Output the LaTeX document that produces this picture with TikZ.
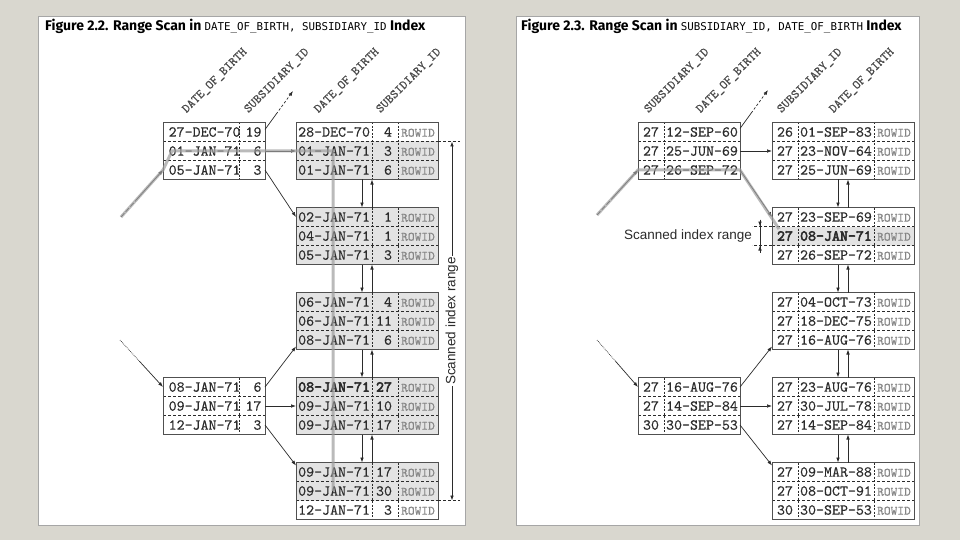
\documentclass[tikz,border=0pt]{standalone}
\usepackage{fontspec}
\setmainfont{Liberation Sans}
\newfontfamily\titlefont{Fira Sans}
\newfontfamily\codefont{DejaVu Sans Mono}
\newfontfamily\cellmono{lmmono10-regular.otf}[FakeBold=0.35]
\newfontfamily\cellmonobf{lmmono10-regular.otf}[FakeBold=3.5]
\usetikzlibrary{arrows.meta,calc,positioning}

\definecolor{page}{HTML}{D9D7CF}
\definecolor{panelline}{HTML}{A6A6A6}
\definecolor{ink}{HTML}{2B2B2B}
\definecolor{framegray}{HTML}{505050}
\definecolor{hitgray}{HTML}{E3E3E3}
\definecolor{ridgray}{HTML}{858585}
\definecolor{headgray}{HTML}{4A4A4A}
\definecolor{trailgray}{HTML}{9E9E9E}

\newcommand{\cellfont}{\cellmono\fontsize{15.2}{16}\selectfont}
\newcommand{\headfont}{\cellmono\fontsize{12.6}{13}\selectfont}
\newcommand{\rid}{{\cellmono\fontsize{12.8}{13}\selectfont\color{ridgray}ROWID}}
\newcommand{\hl}[1]{{\cellmonobf #1}}
% rows of the DATE_OF_BIRTH, SUBSIDIARY_ID index
\newcommand{\dbr}[2]{\makebox[74pt][r]{#1}\makebox[21pt][r]{#2}\hspace{7pt}}
\newcommand{\dlr}[2]{\makebox[74pt][r]{#1}\makebox[22pt][r]{#2}\hspace{6pt}\makebox[40pt]{\rid}}
% rows of the SUBSIDIARY_ID, DATE_OF_BIRTH index
\newcommand{\sbr}[2]{\makebox[26pt]{#1}\makebox[76pt]{#2}}
\newcommand{\slr}[2]{\makebox[26pt]{#1}\makebox[76pt]{#2}\makebox[40pt]{\rid}}

\begin{document}
\begin{tikzpicture}[x=1pt, y=-1pt, >={Latex[length=5pt,width=3.6pt]},
  cell/.style={anchor=north west, inner sep=0pt, outer sep=0pt, minimum height=19pt, font=\cellfont, text=ink},
  brow/.style={cell, minimum width=102pt},
  lrow/.style={cell, minimum width=142pt},
  hit/.style={fill=hitgray},
  frame/.style={draw=framegray, line width=0.9pt},
  rowsep/.style={draw=ink, dash pattern=on 3pt off 2pt, line width=0.6pt},
  colsep/.style={draw=ink, dash pattern=on 2pt off 1.5pt, line width=0.6pt},
  link/.style={->, draw=ink, line width=0.7pt},
  trail/.style={draw=trailgray, line width=3pt, opacity=0.7},
  colhead/.style={anchor=south west, rotate=45, inner sep=0pt, font=\headfont, text=headgray},
  rangelabel/.style={fill=white, inner sep=1pt, font=\fontsize{13.5}{14}\selectfont, text=ink}]

  % page and panels
  \fill[page] (0,0) rectangle (960,540);
  \draw[panelline, fill=white] (38,16) rectangle (465,525);
  \draw[panelline, fill=white] (516,16) rectangle (919,525);

  \node[anchor=base west, inner sep=0pt] (title1) at (45,31)
    {\titlefont\bfseries\fontsize{14}{16}\selectfont Figure 2.2. Range Scan in
     {\codefont\mdseries\fontsize{10.8}{12}\selectfont DATE\_OF\_BIRTH, SUBSIDIARY\_ID} Index};
  \node[anchor=base west, inner sep=0pt] (title2) at (521,31)
    {\titlefont\bfseries\fontsize{14}{16}\selectfont Figure 2.3. Range Scan in
     {\codefont\mdseries\fontsize{10.8}{12}\selectfont SUBSIDIARY\_ID, DATE\_OF\_BIRTH} Index};

  %% Figure 2.2 -- branch nodes
  \node[brow] (db1-1) at (163,122.5) {\dbr{27-DEC-70}{19}};
  \node[brow, below=0pt of db1-1] (db1-2) {\dbr{01-JAN-71}{6}};
  \node[brow, below=0pt of db1-2] (db1-3) {\dbr{05-JAN-71}{3}};
  \node[brow] (db2-1) at (163,377.5) {\dbr{08-JAN-71}{6}};
  \node[brow, below=0pt of db2-1] (db2-2) {\dbr{09-JAN-71}{17}};
  \node[brow, below=0pt of db2-2] (db2-3) {\dbr{12-JAN-71}{3}};

  %% Figure 2.2 -- leaf nodes
  \node[lrow] (dl1-1) at (296,122.5) {\dlr{28-DEC-70}{4}};
  \node[lrow, hit, below=0pt of dl1-1] (dl1-2) {\dlr{01-JAN-71}{3}};
  \node[lrow, hit, below=0pt of dl1-2] (dl1-3) {\dlr{01-JAN-71}{6}};
  \node[lrow, hit, below=28pt of dl1-3] (dl2-1) {\dlr{02-JAN-71}{1}};
  \node[lrow, hit, below=0pt of dl2-1] (dl2-2) {\dlr{04-JAN-71}{1}};
  \node[lrow, hit, below=0pt of dl2-2] (dl2-3) {\dlr{05-JAN-71}{3}};
  \node[lrow, hit, below=28pt of dl2-3] (dl3-1) {\dlr{06-JAN-71}{4}};
  \node[lrow, hit, below=0pt of dl3-1] (dl3-2) {\dlr{06-JAN-71}{11}};
  \node[lrow, hit, below=0pt of dl3-2] (dl3-3) {\dlr{08-JAN-71}{6}};
  \node[lrow, hit, below=28pt of dl3-3] (dl4-1) {\dlr{\hl{08-JAN-71}}{\hl{27}}};
  \node[lrow, hit, below=0pt of dl4-1] (dl4-2) {\dlr{09-JAN-71}{10}};
  \node[lrow, hit, below=0pt of dl4-2] (dl4-3) {\dlr{09-JAN-71}{17}};
  \node[lrow, hit, below=28pt of dl4-3] (dl5-1) {\dlr{09-JAN-71}{17}};
  \node[lrow, hit, below=0pt of dl5-1] (dl5-2) {\dlr{09-JAN-71}{30}};
  \node[lrow, below=0pt of dl5-2] (dl5-3) {\dlr{12-JAN-71}{3}};

  \foreach \n in {db1,db2}{
    \draw[rowsep] (\n-1.south west) -- (\n-1.south east) (\n-2.south west) -- (\n-2.south east);
    \draw[colsep] ([xshift=76pt]\n-1.north west) -- ([xshift=76pt]\n-3.south west);
    \draw[frame] (\n-1.north west) rectangle (\n-3.south east);
  }
  \foreach \n in {dl1,dl2,dl3,dl4,dl5}{
    \draw[rowsep] (\n-1.south west) -- (\n-1.south east) (\n-2.south west) -- (\n-2.south east);
    \draw[colsep] ([xshift=76pt]\n-1.north west) -- ([xshift=76pt]\n-3.south west)
                  ([xshift=102pt]\n-1.north west) -- ([xshift=102pt]\n-3.south west);
    \draw[frame] (\n-1.north west) rectangle (\n-3.south east);
  }

  \node[colhead] (dhb1) at ([xshift=25pt,yshift=7.5pt]db1-1.north west) {DATE\_OF\_BIRTH};
  \node[colhead] (dhb2) at ([xshift=87pt,yshift=7.5pt]db1-1.north west) {SUBSIDIARY\_ID};
  \node[colhead] (dhl1) at ([xshift=24pt,yshift=7.5pt]dl1-1.north west) {DATE\_OF\_BIRTH};
  \node[colhead] (dhl2) at ([xshift=86pt,yshift=7.5pt]dl1-1.north west) {SUBSIDIARY\_ID};

  % connectors
  \coordinate (din1) at (121,217);
  \coordinate (din2) at (120,340);
  \coordinate (dtop) at (293,91);
  \coordinate (dfoot) at ([yshift=-7pt]db1-1.north east);
  \draw[link, -, dash pattern=on 5pt off 2pt] (din1) -- ($(din1)!0.4!(db1-3.west)$);
  \draw[link] ($(din1)!0.4!(db1-3.west)$) -- (db1-3.west);
  \draw[link, -, densely dotted] (din2) -- ($(din2)!0.45!(db2-1.west)$);
  \draw[link] ($(din2)!0.45!(db2-1.west)$) -- (db2-1.west);
  \draw[link, -] (dfoot) -- ($(dfoot)!0.4!(dtop)$);
  \draw[link, dash pattern=on 2.5pt off 2pt] ($(dfoot)!0.4!(dtop)$) -- (dtop);
  \draw[link] (db1-2.east) -- (dl1-2.west);
  \draw[link] (db1-3.east) -- (dl2-1.west);
  \draw[link] (db2-1.east) -- ([yshift=3pt]dl3-3.south west);
  \draw[link] (db2-2.east) -- (dl4-2.west);
  \draw[link] (db2-3.east) -- ([yshift=-3pt]dl5-1.north west);
  \foreach \a/\b in {1/2,2/3,3/4,4/5}{
    \draw[link] ([xshift=66pt]dl\a-3.south west) -- ([xshift=66pt]dl\b-1.north west);
    \draw[link] ([xshift=76pt]dl\b-1.north west) -- ([xshift=76pt]dl\a-3.south west);
  }

  % scanned range
  \draw[rowsep] (dl1-1.south east) -- ++(22,0);
  \draw[rowsep] (dl5-2.south east) -- ++(22,0);
  \draw[link, <->] ([xshift=14pt]dl1-1.south east) --
    node[rangelabel, rotate=90] (drange) {Scanned index range} ([xshift=14pt]dl5-2.south east);

  \draw[trail] (din1) -- (db1-3.west) -- ([xshift=9pt]db1-2.west) -- ([xshift=37pt]dl1-2.west)
    -- ([xshift=37pt]dl5-2.west);

  %% Figure 2.3 -- branch nodes
  \node[brow] (sb1-1) at (638,122.5) {\sbr{27}{12-SEP-60}};
  \node[brow, below=0pt of sb1-1] (sb1-2) {\sbr{27}{25-JUN-69}};
  \node[brow, below=0pt of sb1-2] (sb1-3) {\sbr{27}{26-SEP-72}};
  \node[brow] (sb2-1) at (638,377.5) {\sbr{27}{16-AUG-76}};
  \node[brow, below=0pt of sb2-1] (sb2-2) {\sbr{27}{14-SEP-84}};
  \node[brow, below=0pt of sb2-2] (sb2-3) {\sbr{30}{30-SEP-53}};

  %% Figure 2.3 -- leaf nodes
  \node[lrow] (sl1-1) at (772,122.5) {\slr{26}{01-SEP-83}};
  \node[lrow, below=0pt of sl1-1] (sl1-2) {\slr{27}{23-NOV-64}};
  \node[lrow, below=0pt of sl1-2] (sl1-3) {\slr{27}{25-JUN-69}};
  \node[lrow, below=28pt of sl1-3] (sl2-1) {\slr{27}{23-SEP-69}};
  \node[lrow, hit, below=0pt of sl2-1] (sl2-2) {\slr{\hl{27}}{\hl{08-JAN-71}}};
  \node[lrow, below=0pt of sl2-2] (sl2-3) {\slr{27}{26-SEP-72}};
  \node[lrow, below=28pt of sl2-3] (sl3-1) {\slr{27}{04-OCT-73}};
  \node[lrow, below=0pt of sl3-1] (sl3-2) {\slr{27}{18-DEC-75}};
  \node[lrow, below=0pt of sl3-2] (sl3-3) {\slr{27}{16-AUG-76}};
  \node[lrow, below=28pt of sl3-3] (sl4-1) {\slr{27}{23-AUG-76}};
  \node[lrow, below=0pt of sl4-1] (sl4-2) {\slr{27}{30-JUL-78}};
  \node[lrow, below=0pt of sl4-2] (sl4-3) {\slr{27}{14-SEP-84}};
  \node[lrow, below=28pt of sl4-3] (sl5-1) {\slr{27}{09-MAR-88}};
  \node[lrow, below=0pt of sl5-1] (sl5-2) {\slr{27}{08-OCT-91}};
  \node[lrow, below=0pt of sl5-2] (sl5-3) {\slr{30}{30-SEP-53}};

  \foreach \n in {sb1,sb2}{
    \draw[rowsep] (\n-1.south west) -- (\n-1.south east) (\n-2.south west) -- (\n-2.south east);
    \draw[colsep] ([xshift=26pt]\n-1.north west) -- ([xshift=26pt]\n-3.south west);
    \draw[frame] (\n-1.north west) rectangle (\n-3.south east);
  }
  \foreach \n in {sl1,sl2,sl3,sl4,sl5}{
    \draw[rowsep] (\n-1.south west) -- (\n-1.south east) (\n-2.south west) -- (\n-2.south east);
    \draw[colsep] ([xshift=26pt]\n-1.north west) -- ([xshift=26pt]\n-3.south west)
                  ([xshift=102pt]\n-1.north west) -- ([xshift=102pt]\n-3.south west);
    \draw[frame] (\n-1.north west) rectangle (\n-3.south east);
  }

  \node[colhead] (shb1) at ([xshift=12pt,yshift=7.5pt]sb1-1.north west) {SUBSIDIARY\_ID};
  \node[colhead] (shb2) at ([xshift=64pt,yshift=7.5pt]sb1-1.north west) {DATE\_OF\_BIRTH};
  \node[colhead] (shl1) at ([xshift=11pt,yshift=7.5pt]sl1-1.north west) {SUBSIDIARY\_ID};
  \node[colhead] (shl2) at ([xshift=63pt,yshift=7.5pt]sl1-1.north west) {DATE\_OF\_BIRTH};

  % connectors
  \coordinate (sin1) at (597,215);
  \coordinate (sin2) at (597,340);
  \coordinate (stop) at (768,90);
  \coordinate (sfoot) at ([yshift=-6pt]sb1-1.north east);
  \draw[link, -, dash pattern=on 5pt off 2pt] (sin1) -- ($(sin1)!0.4!(sb1-3.west)$);
  \draw[link] ($(sin1)!0.4!(sb1-3.west)$) -- (sb1-3.west);
  \draw[link, -, densely dotted] (sin2) -- ($(sin2)!0.45!(sb2-1.west)$);
  \draw[link] ($(sin2)!0.45!(sb2-1.west)$) -- (sb2-1.west);
  \draw[link, -] (sfoot) -- ($(sfoot)!0.4!(stop)$);
  \draw[link, dash pattern=on 2.5pt off 2pt] ($(sfoot)!0.4!(stop)$) -- (stop);
  \draw[link] (sb1-2.east) -- (sl1-2.west);
  \draw[link] (sb1-3.east) -- (sl2-1.west);
  \draw[link] (sb2-1.east) -- ([yshift=3pt]sl3-3.south west);
  \draw[link] (sb2-2.east) -- (sl4-2.west);
  \draw[link] (sb2-3.east) -- ([yshift=-3pt]sl5-1.north west);
  \foreach \a/\b in {1/2,2/3,3/4,4/5}{
    \draw[link] ([xshift=66pt]sl\a-3.south west) -- ([xshift=66pt]sl\b-1.north west);
    \draw[link] ([xshift=76pt]sl\b-1.north west) -- ([xshift=76pt]sl\a-3.south west);
  }

  % scanned range
  \draw[rowsep] (sl2-1.south west) -- ++(-20,0);
  \draw[rowsep] (sl2-2.south west) -- ++(-20,0);
  \draw[draw=ink, line width=0.6pt] ([xshift=-12pt,yshift=7pt]sl2-1.south west)
    -- ([xshift=-12pt,yshift=-7pt]sl2-2.south west);
  \draw[link] ([xshift=-12pt,yshift=7pt]sl2-1.south west) -- ([xshift=-12pt]sl2-1.south west);
  \draw[link] ([xshift=-12pt,yshift=-7pt]sl2-2.south west) -- ([xshift=-12pt]sl2-2.south west);
  \node[rangelabel, anchor=east] (srange) at ([xshift=-19pt]sl2-2.west) {Scanned index range};

  \draw[trail] (sin1) -- (sb1-3.west) -- (sb1-3.east) -- ([xshift=7pt,yshift=7pt]sl2-2.west);
\end{tikzpicture}
\end{document}
